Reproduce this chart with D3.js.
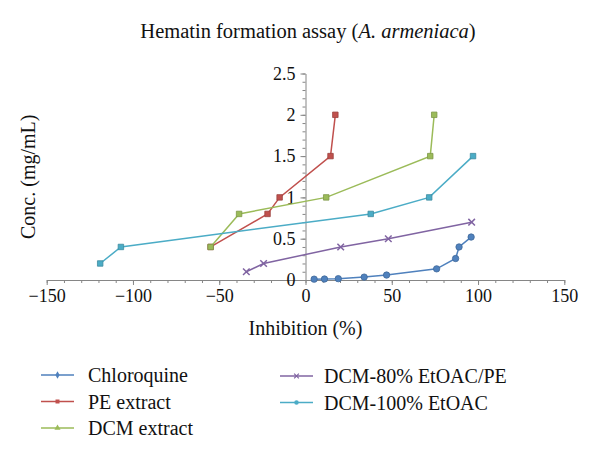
<!DOCTYPE html>
<html><head><meta charset="utf-8">
<script src="https://cdn.jsdelivr.net/npm/d3@7"></script>
<style>body{margin:0;background:#fff}svg{display:block}text{font-family:"Liberation Serif","DejaVu Serif",serif;fill:#111}</style>
</head><body><svg id="c" width="600" height="462"></svg>
<script>
const seriesNames = ["Chloroquine","PE extract","DCM extract","DCM-80% EtOAC/PE","DCM-100% EtOAC"];
const colors = ["#4F81BD","#C0504D","#9BBB59","#8064A2","#4BACC6"];
const chloroquineX = [5, 11, 19, 34, 47, 76, 87, 89, 96];
const chloroquineY = [0.01, 0.012, 0.016, 0.035, 0.06, 0.135, 0.26, 0.4, 0.52];
const peX = [-55, -22, -15, 14.5, 17.3];
const peY = [0.4, 0.8, 1.0, 1.5, 2.0];
const dcmX = [-55, -38.5, 12, 72.3, 74.6];
const dcmY = [0.4, 0.8, 1.0, 1.5, 2.0];
const dcm80X = [-34.3, -24.3, 20.4, 48, 96.3];
const dcm80Y = [0.1, 0.2, 0.4, 0.5, 0.7];
const dcm100X = [-119, -107, 37.8, 71.7, 97.1];
const dcm100Y = [0.2, 0.4, 0.8, 1.0, 1.5];
const xTicks = [-150, -100, -50, 0, 50, 100, 150];
const yTicks = [0, 0.5, 1, 1.5, 2, 2.5];

const seriesX = [chloroquineX, peX, dcmX, dcm80X, dcm100X];
const seriesY = [chloroquineY, peY, dcmY, dcm80Y, dcm100Y];

const svg = d3.select("#c");
const x = d3.scaleLinear().domain([-150, 150]).range([46.7, 564.3]);
const y = d3.scaleLinear().domain([0, 2.5]).range([280, 73.5]);
const axisColor = "#868686";
const serif = '"Liberation Serif","DejaVu Serif",serif';

// title
const t = svg.append("text").attr("x", 308).attr("y", 38).attr("text-anchor", "middle").style("font-size", "20.5px").style("font-family", serif);
t.append("tspan").text("Hematin formation assay (");
t.append("tspan").style("font-style", "italic").text("A. armeniaca");
t.append("tspan").text(")");

// minor ticks
const xMinor = d3.range(-150, 151, 10);
const yMinor = d3.range(0, 26).map(d => d / 10);
const gxm = svg.append("g").attr("transform", `translate(0,${y(0)})`)
  .call(d3.axisBottom(x).tickValues(xMinor).tickSize(3).tickFormat(""));
const gym = svg.append("g").attr("transform", `translate(${x(0)},0)`)
  .call(d3.axisLeft(y).tickValues(yMinor).tickSize(3).tickFormat(""));
[gxm, gym].forEach(g => { g.select(".domain").remove(); g.selectAll("line").attr("stroke", axisColor); });

const gx = svg.append("g").attr("transform", `translate(0,${y(0)})`)
  .call(d3.axisBottom(x).tickValues(xTicks).tickSize(5).tickPadding(4).tickSizeOuter(0).tickFormat(d => d < 0 ? "\u2212" + Math.abs(d) : d));
const gy = svg.append("g").attr("transform", `translate(${x(0)},0)`)
  .call(d3.axisLeft(y).tickValues(yTicks).tickSize(5).tickPadding(5).tickSizeOuter(0).tickFormat(d => d));
[gx, gy].forEach(g => {
  g.attr("font-family", null).attr("font-size", null);
  g.select(".domain").attr("stroke", axisColor);
  g.selectAll("line").attr("stroke", axisColor);
  g.selectAll("text").style("font-size", "18px").style("font-family", serif).attr("fill", "#111");
});

// axis titles
svg.append("text").attr("x", x(0)).attr("y", 335).attr("text-anchor", "middle").style("font-size", "20px").style("font-family", serif).text("Inhibition (%)");
svg.append("text").attr("transform", `translate(35,${(y(0)+y(2.5))/2}) rotate(-90)`).attr("text-anchor", "middle").style("font-size", "20px").style("font-family", serif).text("Conc. (mg/mL)");

const symbols = [d3.symbolCircle, d3.symbolSquare, d3.symbolSquare, d3.symbolX, d3.symbolSquare];
const legendSymbols = [d3.symbolDiamond, d3.symbolSquare, d3.symbolTriangle, d3.symbolX, d3.symbolCircle];

const line = d3.line().x(d => x(d[0])).y(d => y(d[1]));
seriesX.forEach((xs, i) => {
  const pts = xs.map((v, j) => [v, seriesY[i][j]]);
  svg.append("path").datum(pts).attr("d", line).attr("fill", "none").attr("stroke", colors[i]).attr("stroke-width", 1.5);
  svg.selectAll(null).data(pts).enter().append("path")
    .attr("transform", d => `translate(${x(d[0])},${y(d[1])})`)
    .attr("d", d3.symbol().type(symbols[i]).size(i === 0 ? 32 : 30))
    .attr("fill", i === 3 ? "none" : colors[i])
    .attr("stroke", i === 3 ? colors[i] : d3.color(colors[i]).darker(0.6))
    .attr("stroke-width", i === 3 ? 1.5 : 0.8);
});

// legend
const legPos = [[41, 375], [41, 401.5], [41, 428], [280, 376], [280, 402.5]];
seriesNames.forEach((name, i) => {
  const [lx, ly] = legPos[i];
  const g = svg.append("g").attr("transform", `translate(${lx},${ly})`);
  g.append("line").attr("x1", 0).attr("x2", 33).attr("y1", 0).attr("y2", 0).attr("stroke", colors[i]).attr("stroke-width", 1.5);
  g.append("path").attr("transform", "translate(16.5,0)").attr("d", d3.symbol().type(legendSymbols[i]).size(16))
    .attr("fill", i === 3 ? "none" : colors[i]).attr("stroke", i === 3 ? colors[i] : "none").attr("stroke-width", 1.2);
  g.append("text").attr("x", (i < 3 ? 47 : 44)).attr("y", 0).attr("dy", "0.35em").style("font-size", "20px").style("font-family", serif).text(name);
});
</script></body></html>
